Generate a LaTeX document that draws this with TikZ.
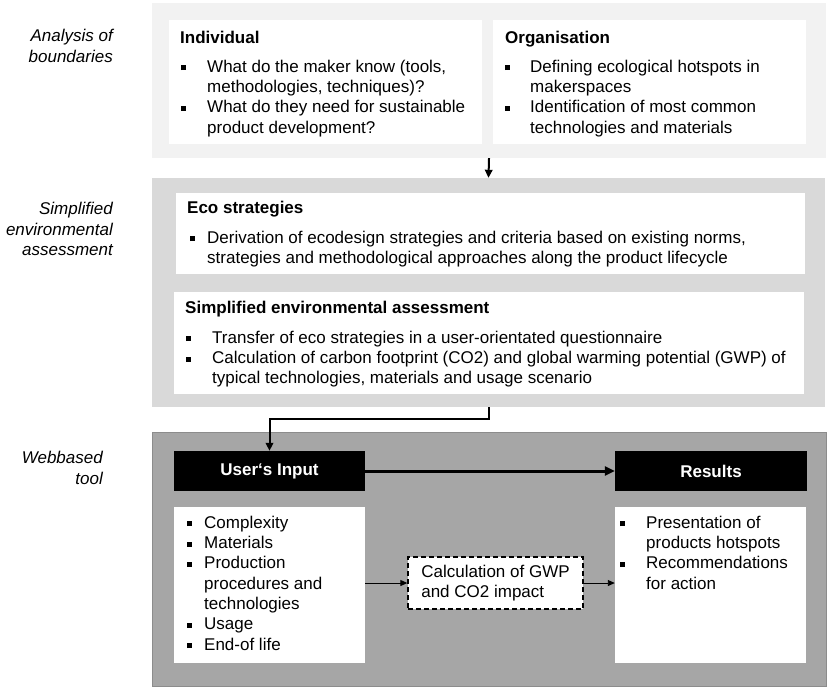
\documentclass[tikz,border=0pt]{standalone}
\usepackage{fontspec}
\setmainfont{Liberation Sans}
\usetikzlibrary{arrows.meta,calc}
\definecolor{panelA}{RGB}{242,242,242}
\definecolor{panelB}{RGB}{217,217,217}
\definecolor{panelC}{RGB}{166,166,166}
\newcommand{\fsz}{\fontsize{17}{20.3}\selectfont}
\newcommand{\sqbul}{\raisebox{2pt}{\rule{5pt}{5pt}}}
\newcommand{\blist}[2]{\begin{tabular}{@{}p{#1}@{}l@{}}#2\end{tabular}}
\tikzset{
  fpanel/.style={rectangle, inner sep=0pt},
  fbox/.style  ={rectangle, fill=white, inner sep=0pt},
  fhead/.style ={rectangle, fill=black, text=white, font=\fsz\bfseries, inner sep=0pt},
  fcalc/.style ={rectangle, fill=white, draw=black, line width=1.3pt,
                 dash pattern=on 5pt off 3pt, inner sep=0pt, align=left},
  ftitle/.style={anchor=base west, inner sep=0pt, font=\fsz\bfseries},
  ftext/.style ={anchor=north west, inner sep=0pt},
  fside/.style ={anchor=east, inner sep=0pt, align=right, font=\fsz\itshape},
  fdir/.style  ={-{Triangle[length=8pt,width=7.5pt]}, line width=2pt},
  fthick/.style={-{Triangle[length=10pt,width=9pt]}, line width=3pt},
  fthin/.style ={-{Triangle[length=7pt,width=6pt]}, line width=0.9pt},
}
\begin{document}
\begin{tikzpicture}[x=1pt, y=-1pt, font=\fsz]
  \useasboundingbox (0,0) rectangle (829,689);
  % side labels
  \node[fside] (lAnalysis) at (113,46)  {Analysis of\\boundaries};
  \node[fside] (lAssess)   at (113,229) {Simplified\\environmental\\assessment};
  \node[fside] (lTool)     at (103,468) {Webbased\\tool};
  % analysis of boundaries
  \node[fpanel, fill=panelA, minimum width=674pt, minimum height=155pt] (analysis) at (489,80.5) {};
  \node[fbox, minimum width=313pt, minimum height=124pt] (indiv) at (325.5,82) {};
  \node[fbox, minimum width=313pt, minimum height=124pt] (orga)  at (649.5,82) {};
  \node[ftitle] (tIndiv) at (180,43) {Individual};
  \node[ftext]  (xIndiv) at (181,57.8) {\blist{26pt}{%
    \sqbul & What do the maker know (tools,\\
           & methodologies, techniques)?\\
    \sqbul & What do they need for sustainable\\
           & product development?}};
  \node[ftitle] (tOrga) at (505,43) {Organisation};
  \node[ftext]  (xOrga) at (505,57.8) {\blist{25pt}{%
    \sqbul & Defining ecological hotspots in\\
           & makerspaces\\
    \sqbul & Identification of most common\\
           & technologies and materials}};
  % simplified environmental assessment
  \node[fpanel, fill=panelB, minimum width=673pt, minimum height=229pt] (assess) at (488.5,292.5) {};
  \node[fbox, minimum width=629pt, minimum height=81pt]  (eco)  at (490.5,233.5) {};
  \node[fbox, minimum width=630pt, minimum height=102pt] (simp) at (489,343) {};
  \node[ftitle] (tEco) at (187,213) {Eco strategies};
  \node[ftext]  (xEco) at (190,228.8) {\blist{17pt}{%
    \sqbul & Derivation of ecodesign strategies and criteria based on existing norms,\\
           & strategies and methodological approaches along the product lifecycle}};
  \node[ftitle] (tSimp) at (185,313) {Simplified environmental assessment};
  \node[ftext]  (xSimp) at (186,328.8) {\blist{26pt}{%
    \sqbul & Transfer of eco strategies in a user-orientated questionnaire\\
    \sqbul & Calculation of carbon footprint (CO2) and global warming potential (GWP) of\\
           & typical technologies, materials and usage scenario}};
  % webbased tool
  \node[fpanel, fill=panelC, draw=black!45, line width=0.6pt, minimum width=674pt, minimum height=254pt] (tool) at (489,559) {};
  \node[fhead, minimum width=191pt, minimum height=40pt] (input)   at (269.5,471) {User‘s Input};
  \node[fhead, minimum width=192pt, minimum height=40pt] (results) at (711,471)   {Results};
  \node[fbox, minimum width=191pt, minimum height=156pt] (inList)  at (269.5,585) {};
  \node[fbox, minimum width=191pt, minimum height=156pt] (outList) at (710.5,585) {};
  \node[ftext] (xIn) at (187,513.8) {\blist{17pt}{%
    \sqbul & Complexity\\
    \sqbul & Materials\\
    \sqbul & Production\\
           & procedures and\\
           & technologies\\
    \sqbul & Usage\\
    \sqbul & End-of life}};
  \node[ftext] (xOut) at (620,513.8) {\blist{26pt}{%
    \sqbul & Presentation of\\
           & products hotspots\\
    \sqbul & Recommendations\\
           & for action}};
  \node[fcalc, minimum width=175pt, minimum height=52pt] (calc) at (495.5,583) {Calculation of GWP\\and CO2 impact};
  % connectors
  \draw[fdir] (analysis.south) -- (assess.north);
  \draw[fdir] (assess.south) -- ++(0,12) -| (input.north);
  \draw[fthick] (input.east) -- (results.west);
  \draw[fthin] (calc.west -| inList.east) -- (calc.west);
  \draw[fthin] (calc.east) -- (calc.east -| outList.west);
\end{tikzpicture}
\end{document}
